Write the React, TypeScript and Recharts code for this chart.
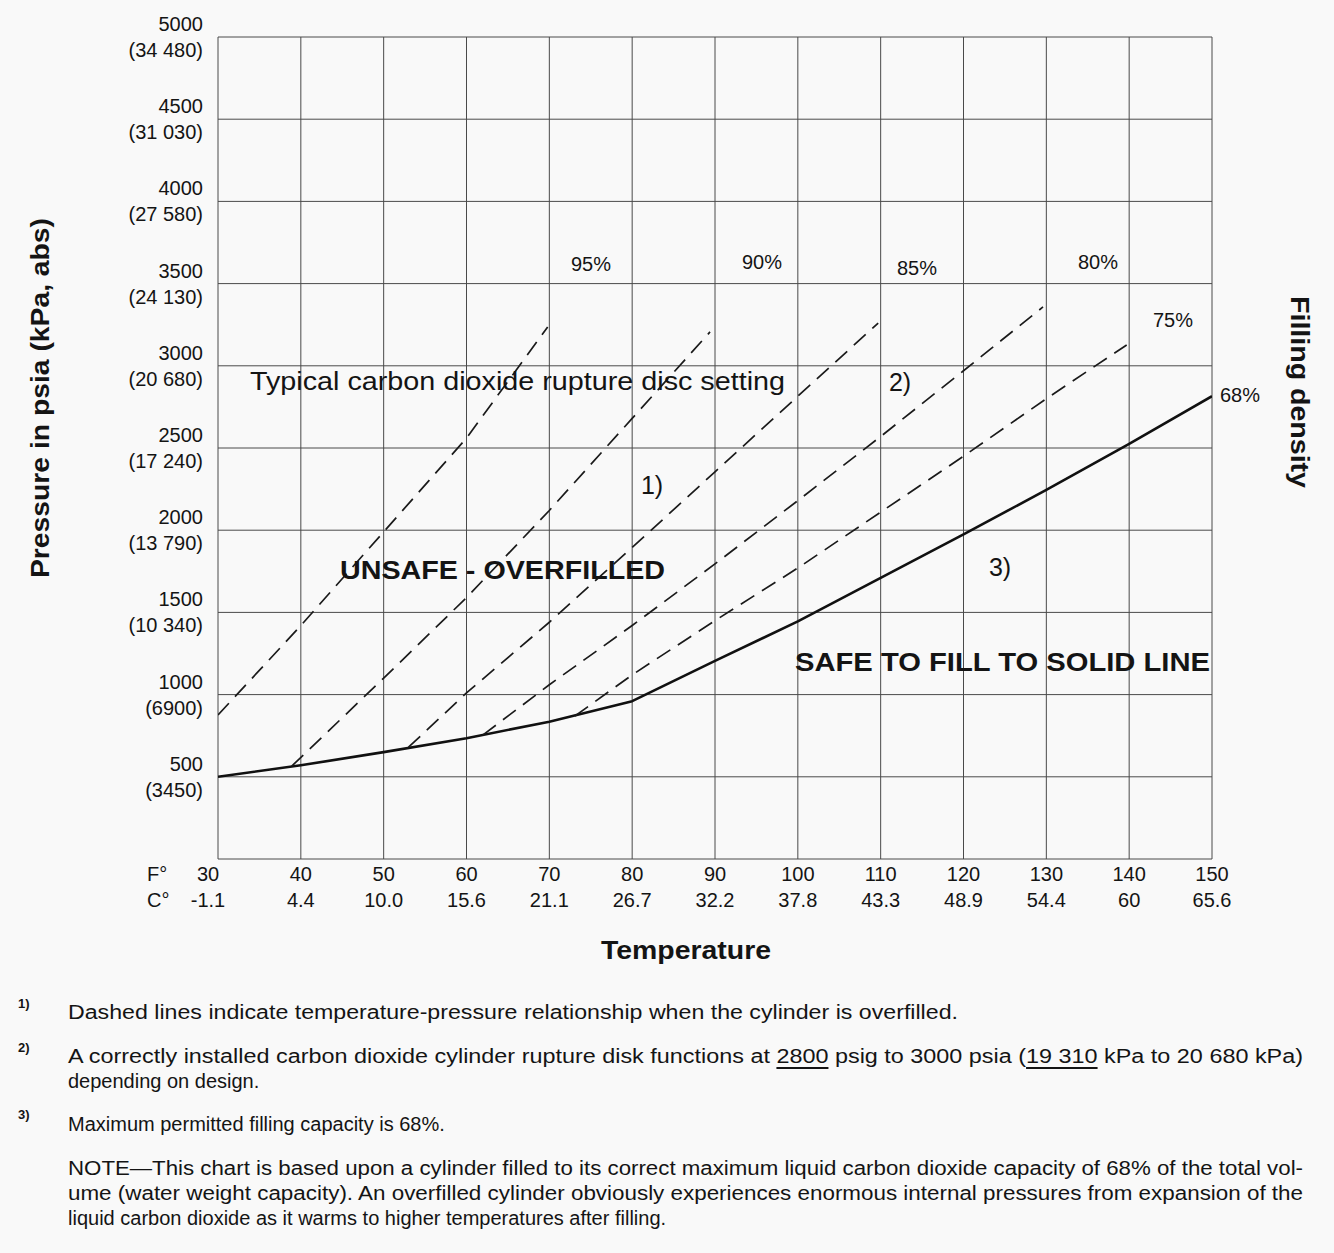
import React from 'react';
import { LineChart, Line, XAxis, YAxis, CartesianGrid } from 'recharts';

// axis ticks
const tempF = [30, 40, 50, 60, 70, 80, 90, 100, 110, 120, 130, 140, 150];
const tempC = ['-1.1', '4.4', '10.0', '15.6', '21.1', '26.7', '32.2', '37.8', '43.3', '48.9', '54.4', '60', '65.6'];
const pressurePsia = [0, 500, 1000, 1500, 2000, 2500, 3000, 3500, 4000, 4500, 5000];
const pressureKpa = ['', '3450', '6900', '10 340', '13 790', '17 240', '20 680', '24 130', '27 580', '31 030', '34 480'];

// 68% fill - solid line (safe limit)
const fill68Temp = [30, 40, 50, 60, 70, 80, 90, 100, 110, 120, 130, 140, 150];
const fill68Psia = [500, 570, 650, 735, 835, 960, 1205, 1445, 1710, 1975, 2245, 2525, 2815];

// overfilled cylinders - dashed lines
const fill95Temp = [30, 40, 50, 60, 69.8];
const fill95Psia = [876, 1420, 1990, 2560, 3236];
const fill90Temp = [38.9, 50, 60, 70, 80, 89.4];
const fill90Psia = [565, 1100, 1590, 2120, 2680, 3206];
const fill85Temp = [53, 60, 70, 80, 90, 100, 109.7];
const fill85Psia = [680, 1010, 1440, 1895, 2355, 2815, 3260];
const fill80Temp = [62, 70, 80, 90, 100, 110, 120, 129.6];
const fill80Psia = [755, 1060, 1420, 1795, 2180, 2570, 2970, 3358];
const fill75Temp = [73.1, 80, 90, 100, 110, 120, 130, 139.7];
const fill75Psia = [870, 1120, 1450, 1770, 2110, 2450, 2800, 3127];

const toPoints = (t: number[], p: number[]) => t.map((v, i) => ({ t: v, p: p[i] }));

const FONT = '"Liberation Sans", Arial, sans-serif';
const INK = '#141414';

const XTick = ({ x, y, payload }: any) => {
  const i = tempF.indexOf(payload.value);
  const dx = i === 0 ? -10 : 0;
  return (
    <g>
      <text x={x + dx} y={y + 15} textAnchor="middle" dominantBaseline="central" fontSize={20} fill={INK} fontFamily={FONT}>
        {payload.value}
      </text>
      <text x={x + dx} y={y + 41} textAnchor="middle" dominantBaseline="central" fontSize={20} fill={INK} fontFamily={FONT}>
        {tempC[i]}
      </text>
    </g>
  );
};

const YTick = ({ x, y, payload }: any) => {
  if (payload.value === 0) return null;
  const i = pressurePsia.indexOf(payload.value);
  return (
    <g>
      <text x={x} y={y - 13} textAnchor="end" dominantBaseline="central" fontSize={20} fill={INK} fontFamily={FONT}>
        {payload.value}
      </text>
      <text x={x} y={y + 13} textAnchor="end" dominantBaseline="central" fontSize={20} fill={INK} fontFamily={FONT}>
        ({pressureKpa[i]})
      </text>
    </g>
  );
};

const dashed = [
  { key: '95', data: toPoints(fill95Temp, fill95Psia) },
  { key: '90', data: toPoints(fill90Temp, fill90Psia) },
  { key: '85', data: toPoints(fill85Temp, fill85Psia) },
  { key: '80', data: toPoints(fill80Temp, fill80Psia) },
  { key: '75', data: toPoints(fill75Temp, fill75Psia) },
];

const T = (props: any) => (
  <text fill={INK} fontFamily={FONT} dominantBaseline="central" {...props} />
);

export default function App() {
  return (
    <div style={{ position: 'absolute', left: 0, top: 0, width: 1334, height: 1253, background: '#f9f9f9', overflow: 'hidden' }}>
      <div style={{ position: 'absolute', left: 0, top: 0 }}>
        <LineChart width={1334} height={980} margin={{ top: 37, right: 122, bottom: 0, left: 0 }}>
          <CartesianGrid stroke="#4a4a4a" strokeWidth={1} />
          <XAxis
            dataKey="t"
            type="number"
            domain={[30, 150]}
            ticks={tempF}
            height={121}
            tickSize={0}
            tickMargin={0}
            axisLine={false}
            tick={<XTick />}
            allowDataOverflow
          />
          <YAxis
            dataKey="p"
            type="number"
            domain={[0, 5000]}
            ticks={pressurePsia}
            width={218}
            tickSize={0}
            tickMargin={15}
            axisLine={false}
            tick={<YTick />}
          />
          <Line
            data={toPoints(fill68Temp, fill68Psia)}
            dataKey="p"
            type="linear"
            stroke="#111"
            strokeWidth={2.6}
            strokeLinejoin="round"
            dot={false}
            isAnimationActive={false}
          />
          {dashed.map((d) => (
            <Line
              key={d.key}
              data={d.data}
              dataKey="p"
              type="linear"
              stroke="#1a1a1a"
              strokeWidth={1.7}
              strokeDasharray="16 9"
              dot={false}
              isAnimationActive={false}
            />
          ))}
        </LineChart>
      </div>

      <svg width={1334} height={1253} style={{ position: 'absolute', left: 0, top: 0, pointerEvents: 'none' }}>
        {/* axis titles */}
        <T x={0} y={0} fontSize={25} fontWeight="bold" textAnchor="middle" transform="translate(40 398) rotate(-90)" textLength={360} lengthAdjust="spacingAndGlyphs">
          Pressure in psia (kPa, abs)
        </T>
        <T x={0} y={0} fontSize={25} fontWeight="bold" textAnchor="middle" transform="translate(1300 392) rotate(90)" textLength={192} lengthAdjust="spacingAndGlyphs">
          Filling density
        </T>
        <T x={686} y={950} fontSize={25} fontWeight="bold" textAnchor="middle" textLength={170} lengthAdjust="spacingAndGlyphs">
          Temperature
        </T>
        <T x={147} y={874} fontSize={20}>F°</T>
        <T x={147} y={900} fontSize={20}>C°</T>

        {/* fill density labels */}
        <T x={591} y={264} fontSize={20} textAnchor="middle">95%</T>
        <T x={762} y={262} fontSize={20} textAnchor="middle">90%</T>
        <T x={917} y={268} fontSize={20} textAnchor="middle">85%</T>
        <T x={1098} y={262} fontSize={20} textAnchor="middle">80%</T>
        <T x={1173} y={320} fontSize={20} textAnchor="middle">75%</T>
        <T x={1240} y={395} fontSize={20} textAnchor="middle">68%</T>

        {/* chart annotations */}
        <T x={250} y={381} fontSize={25} textLength={535} lengthAdjust="spacingAndGlyphs">
          Typical carbon dioxide rupture disc setting
        </T>
        <T x={340} y={570} fontSize={25} fontWeight="bold" textLength={325} lengthAdjust="spacingAndGlyphs">
          UNSAFE - OVERFILLED
        </T>
        <T x={795} y={662} fontSize={25} fontWeight="bold" textLength={415} lengthAdjust="spacingAndGlyphs">
          SAFE TO FILL TO SOLID LINE
        </T>
        <T x={652} y={485} fontSize={25} textAnchor="middle">1)</T>
        <T x={900} y={382} fontSize={25} textAnchor="middle">2)</T>
        <T x={1000} y={567} fontSize={25} textAnchor="middle">3)</T>

        {/* footnotes */}
        <T x={18} y={1003} fontSize={13} fontWeight="bold">1)</T>
        <T x={68} y={1012} fontSize={20} textLength={890} lengthAdjust="spacingAndGlyphs">
          Dashed lines indicate temperature-pressure relationship when the cylinder is overfilled.
        </T>
        <T x={18} y={1047} fontSize={13} fontWeight="bold">2)</T>
        <T x={68} y={1056} fontSize={20} textLength={1235} lengthAdjust="spacingAndGlyphs">
          A correctly installed carbon dioxide cylinder rupture disk functions at{' '}
          <tspan style={{ textDecoration: 'underline' }}>2800</tspan> psig to 3000 psia (
          <tspan style={{ textDecoration: 'underline' }}>19 310</tspan> kPa to 20 680 kPa)
        </T>
        <T x={68} y={1081} fontSize={20}>depending on design.</T>
        <T x={18} y={1114} fontSize={13} fontWeight="bold">3)</T>
        <T x={68} y={1124} fontSize={20}>Maximum permitted filling capacity is 68%.</T>

        <T x={68} y={1168} fontSize={20} textLength={1235} lengthAdjust="spacingAndGlyphs">
          NOTE—This chart is based upon a cylinder filled to its correct maximum liquid carbon dioxide capacity of 68% of the total vol-
        </T>
        <T x={68} y={1193} fontSize={20} textLength={1235} lengthAdjust="spacingAndGlyphs">
          ume (water weight capacity). An overfilled cylinder obviously experiences enormous internal pressures from expansion of the
        </T>
        <T x={68} y={1218} fontSize={20}>
          liquid carbon dioxide as it warms to higher temperatures after filling.
        </T>
      </svg>
    </div>
  );
}
